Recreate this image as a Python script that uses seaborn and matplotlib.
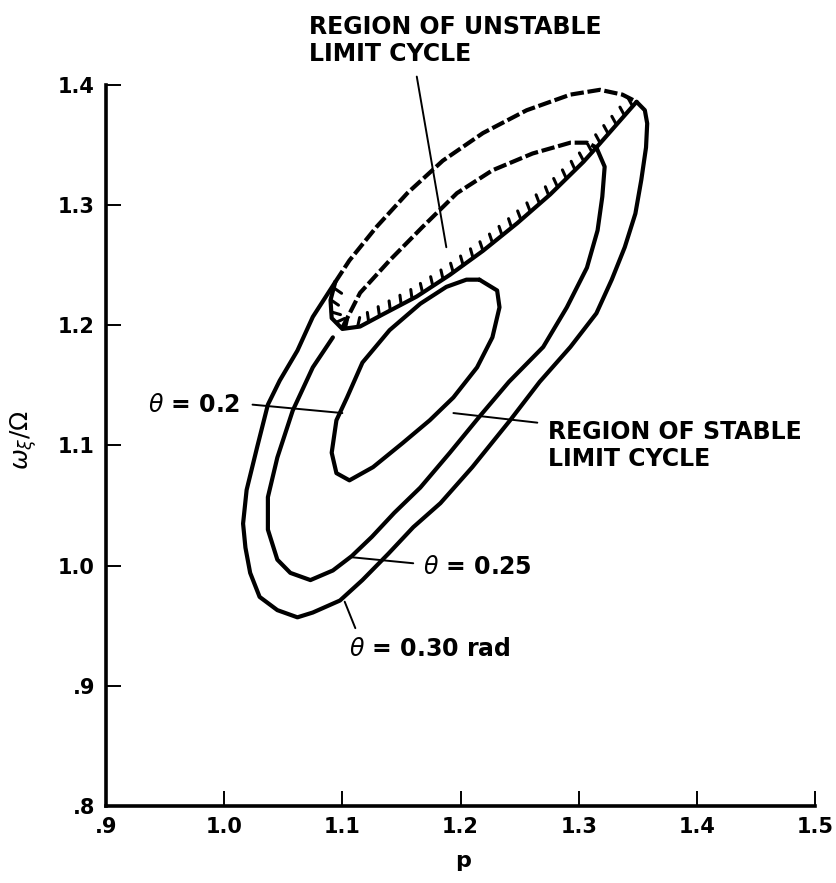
import matplotlib
matplotlib.use('Agg')
import matplotlib.pyplot as plt
import matplotlib.patheffects as pe
import seaborn as sns

# theta = 0.30 rad, solid part (stable limit cycle), from the upper right round to the left
p_030 = [1.349, 1.356, 1.358, 1.357, 1.353, 1.348, 1.339, 1.328, 1.315, 1.293, 1.267,
         1.242, 1.210, 1.183, 1.160, 1.139, 1.117, 1.098, 1.075, 1.062, 1.045, 1.030,
         1.022, 1.018, 1.016, 1.019, 1.028, 1.037, 1.047, 1.062, 1.075, 1.094]
w_030 = [1.386, 1.379, 1.368, 1.348, 1.321, 1.293, 1.265, 1.238, 1.210, 1.182, 1.153,
         1.121, 1.082, 1.052, 1.032, 1.010, 0.988, 0.971, 0.961, 0.957, 0.963, 0.974,
         0.994, 1.015, 1.035, 1.063, 1.099, 1.134, 1.154, 1.179, 1.207, 1.236]

# theta = 0.30 rad, dashed part (unstable)
p_030_dash = [1.094, 1.106, 1.129, 1.155, 1.185, 1.219, 1.256, 1.293, 1.318, 1.337, 1.349]
w_030_dash = [1.236, 1.254, 1.282, 1.310, 1.337, 1.360, 1.379, 1.392, 1.396, 1.392, 1.386]

# theta = 0.25, solid part
p_025 = [1.315, 1.322, 1.320, 1.316, 1.307, 1.290, 1.270, 1.241, 1.216, 1.191, 1.166,
         1.144, 1.125, 1.108, 1.092, 1.073, 1.056, 1.045, 1.037, 1.037, 1.045, 1.058,
         1.075, 1.092]
w_025 = [1.348, 1.332, 1.307, 1.279, 1.248, 1.215, 1.182, 1.153, 1.124, 1.094, 1.065,
         1.044, 1.024, 1.008, 0.996, 0.988, 0.994, 1.005, 1.030, 1.057, 1.090, 1.129,
         1.165, 1.190]

# theta = 0.25, dashed part
p_025_dash = [1.100, 1.115, 1.140, 1.168, 1.197, 1.227, 1.261, 1.293, 1.307, 1.315]
w_025_dash = [1.198, 1.227, 1.254, 1.282, 1.310, 1.329, 1.343, 1.352, 1.352, 1.348]

# theta = 0.2, closed loop
p_020 = [1.216, 1.231, 1.233, 1.227, 1.214, 1.194, 1.174, 1.151, 1.126, 1.106, 1.095,
         1.091, 1.095, 1.104, 1.117, 1.140, 1.166, 1.188, 1.205, 1.216]
w_020 = [1.238, 1.229, 1.215, 1.190, 1.165, 1.140, 1.121, 1.102, 1.082, 1.071, 1.077,
         1.094, 1.121, 1.140, 1.169, 1.196, 1.218, 1.232, 1.238, 1.238]

# hatched stability boundary
p_bound = [1.094, 1.090, 1.091, 1.100, 1.115, 1.134, 1.163, 1.191, 1.219, 1.248, 1.276,
           1.304, 1.315, 1.332, 1.349]
w_bound = [1.236, 1.221, 1.206, 1.197, 1.199, 1.209, 1.224, 1.242, 1.262, 1.285, 1.309,
           1.336, 1.348, 1.367, 1.386]

xticks = [0.9, 1.0, 1.1, 1.2, 1.3, 1.4, 1.5]
xtick_labels = ['.9', '1.0', '1.1', '1.2', '1.3', '1.4', '1.5']
yticks = [0.8, 0.9, 1.0, 1.1, 1.2, 1.3, 1.4]
ytick_labels = ['.8', '.9', '1.0', '1.1', '1.2', '1.3', '1.4']

# leader lines: ((p0, p1), (w0, w1))
lead_unstable = ([1.163, 1.188], [1.407, 1.265])
lead_020 = ([1.024, 1.100], [1.134, 1.127])
lead_stable = ([1.194, 1.265], [1.127, 1.119])
lead_025 = ([1.108, 1.160], [1.007, 1.002])
lead_030 = ([1.102, 1.111], [0.970, 0.948])

sns.set_style('ticks')
plt.rcParams['font.family'] = ['DejaVu Sans']

fig = plt.figure(figsize=(8.36, 8.83), dpi=100)
ax = fig.add_axes([106 / 836, 77 / 883, 709 / 836, 721 / 883])

line_kw = dict(sort=False, estimator=None, color='black', lw=3.0,
               solid_joinstyle='round', solid_capstyle='round', ax=ax)
dash = (0, (3.2, 0.9))
sns.lineplot(x=p_030, y=w_030, **line_kw)
sns.lineplot(x=p_030_dash, y=w_030_dash, linestyle=dash, **line_kw)
sns.lineplot(x=p_025, y=w_025, **line_kw)
sns.lineplot(x=p_025_dash, y=w_025_dash, linestyle=dash, **line_kw)
sns.lineplot(x=p_020, y=w_020, **line_kw)
sns.lineplot(x=p_bound, y=w_bound, **line_kw)
# hatch ticks on the unstable side of the boundary
sns.lineplot(x=p_bound, y=w_bound, sort=False, estimator=None, color='black', lw=2.2,
             path_effects=[pe.TickedStroke(spacing=8.6, angle=70, length=0.8)], ax=ax)

for xs, ys in [lead_unstable, lead_020, lead_stable, lead_025, lead_030]:
    ax.plot(xs, ys, color='black', lw=1.4, clip_on=False)

tkw = dict(fontsize=17, fontweight='bold', color='black')
ax.text(1.072, 1.437, 'REGION OF UNSTABLE\nLIMIT CYCLE', ha='left', va='center', **tkw)
ax.text(1.274, 1.100, 'REGION OF STABLE\nLIMIT CYCLE', ha='left', va='center', **tkw)
ax.text(1.013, 1.134, r'$\theta$ = 0.2', ha='right', va='center', **tkw)
ax.text(1.168, 0.999, r'$\theta$ = 0.25', ha='left', va='center', **tkw)
ax.text(1.106, 0.931, r'$\theta$ = 0.30 rad', ha='left', va='center', **tkw)

ax.set_xlim(0.9, 1.5)
ax.set_ylim(0.8, 1.4)
ax.set_xticks(xticks)
ax.set_xticklabels(xtick_labels, fontsize=15, fontweight='bold')
ax.set_yticks(yticks)
ax.set_yticklabels(ytick_labels, fontsize=15, fontweight='bold')
ax.tick_params(direction='in', length=11, width=1.4, pad=8, colors='black')

sns.despine(ax=ax)
for s in ['left', 'bottom']:
    ax.spines[s].set_linewidth(2.6)
    ax.spines[s].set_color('black')

ax.set_xlabel('p', fontsize=16, fontweight='bold', color='black')
ax.xaxis.set_label_coords(0.503, -0.062)
ax.set_ylabel(r'$\omega_\xi/\Omega$', fontsize=18, color='black')
ax.yaxis.set_label_coords(-0.095, 0.508)

fig.savefig('out.png', dpi=100)
